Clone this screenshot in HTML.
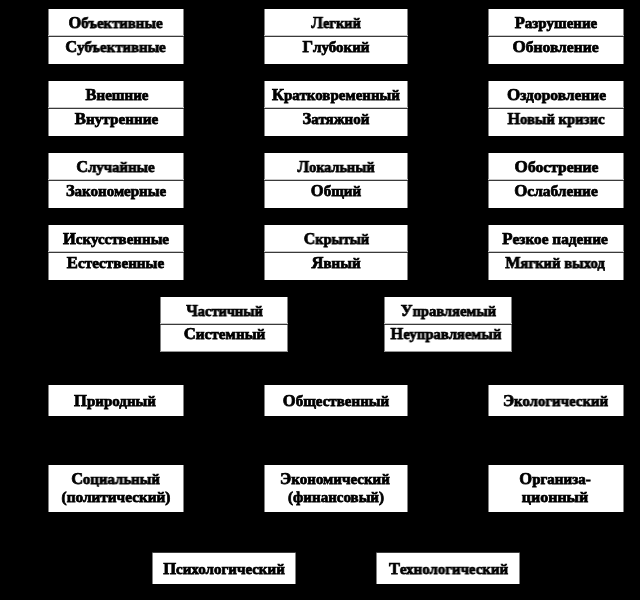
<!DOCTYPE html>
<html><head><meta charset="utf-8"><style>
html,body{margin:0;padding:0;background:#000;width:640px;height:600px;overflow:hidden}
.b{position:absolute;background:#fff;box-sizing:border-box;border-left:1px solid #808080;border-right:1px solid #808080}
.d{position:absolute;height:1px;background:#3a3a3a;box-shadow:0 -1px 0 #c8c8c8}
.t{position:absolute;height:20px;line-height:20px;text-align:center;font-family:"Liberation Serif",serif;font-weight:bold;font-size:15.0px;color:#000;white-space:nowrap;-webkit-text-stroke:0.75px #000;transform-origin:50% 0;will-change:transform}
.c{font-size:16.5px}
</style></head><body>
<div class="b" style="left:48px;top:9px;width:136px;height:55px;"></div>
<div class="d" style="left:48px;top:36px;width:136px"></div>
<div class="b" style="left:264px;top:9px;width:144px;height:55px;"></div>
<div class="d" style="left:264px;top:36px;width:144px"></div>
<div class="b" style="left:488px;top:9px;width:136px;height:55px;"></div>
<div class="d" style="left:488px;top:36px;width:136px"></div>
<div class="b" style="left:48px;top:81px;width:136px;height:55px;"></div>
<div class="d" style="left:48px;top:108px;width:136px"></div>
<div class="b" style="left:264px;top:81px;width:144px;height:55px;"></div>
<div class="d" style="left:264px;top:108px;width:144px"></div>
<div class="b" style="left:488px;top:81px;width:136px;height:55px;"></div>
<div class="d" style="left:488px;top:108px;width:136px"></div>
<div class="b" style="left:48px;top:153px;width:136px;height:55px;"></div>
<div class="d" style="left:48px;top:180px;width:136px"></div>
<div class="b" style="left:264px;top:153px;width:144px;height:55px;"></div>
<div class="d" style="left:264px;top:180px;width:144px"></div>
<div class="b" style="left:488px;top:153px;width:136px;height:55px;"></div>
<div class="d" style="left:488px;top:180px;width:136px"></div>
<div class="b" style="left:48px;top:225px;width:136px;height:55px;"></div>
<div class="d" style="left:48px;top:252px;width:136px"></div>
<div class="b" style="left:264px;top:225px;width:144px;height:55px;"></div>
<div class="d" style="left:264px;top:252px;width:144px"></div>
<div class="b" style="left:488px;top:225px;width:136px;height:55px;"></div>
<div class="d" style="left:488px;top:252px;width:136px"></div>
<div class="b" style="left:160px;top:297px;width:128px;height:54px;box-shadow:0 1px 0 #969696;"></div>
<div class="d" style="left:160px;top:324px;width:128px"></div>
<div class="b" style="left:384px;top:297px;width:128px;height:54px;box-shadow:0 1px 0 #969696;"></div>
<div class="d" style="left:384px;top:324px;width:128px"></div>
<div class="b" style="left:48px;top:385px;width:136px;height:31px;"></div>
<div class="b" style="left:264px;top:385px;width:144px;height:31px;"></div>
<div class="b" style="left:488px;top:385px;width:136px;height:31px;"></div>
<div class="b" style="left:48px;top:465px;width:136px;height:47px;"></div>
<div class="b" style="left:264px;top:465px;width:144px;height:47px;"></div>
<div class="b" style="left:488px;top:465px;width:136px;height:47px;"></div>
<div class="b" style="left:152px;top:553px;width:144px;height:31px;box-shadow:0 -1px 0 #3c3c3c;"></div>
<div class="b" style="left:376px;top:553px;width:144px;height:31px;box-shadow:0 -1px 0 #3c3c3c;"></div>
<div class="t" style="left:48px;width:136px;top:13px;transform:translateX(-0.50px) scaleX(0.9895)"><span class="c">О</span>бъективные</div>
<div class="t" style="left:48px;width:136px;top:37px;transform:translateX(-0.50px) scaleX(0.9901)"><span class="c">С</span>убъективные</div>
<div class="t" style="left:264px;width:144px;top:13px;transform:translateX(-0.02px) scaleX(0.9615)"><span class="c">Л</span>егкий</div>
<div class="t" style="left:264px;width:144px;top:37px;transform:translateX(0.02px) scaleX(1.0007)"><span class="c">Г</span>лубокий</div>
<div class="t" style="left:488px;width:136px;top:13px;transform:translateX(0.00px) scaleX(1.0000)"><span class="c">Р</span>азрушение</div>
<div class="t" style="left:488px;width:136px;top:37px;transform:translateX(-0.48px) scaleX(1.0367)"><span class="c">О</span>бновление</div>
<div class="t" style="left:48px;width:136px;top:85px;transform:translateX(1.01px) scaleX(1.0003)"><span class="c">В</span>нешние</div>
<div class="t" style="left:48px;width:136px;top:109px;transform:translateX(0.51px) scaleX(1.0122)"><span class="c">В</span>нутренние</div>
<div class="t" style="left:264px;width:144px;top:85px;transform:translateX(0.00px) scaleX(1.0000)"><span class="c">К</span>ратковременный</div>
<div class="t" style="left:264px;width:144px;top:109px;transform:translateX(0.00px) scaleX(1.0000)"><span class="c">З</span>атяжной</div>
<div class="t" style="left:488px;width:136px;top:85px;transform:translateX(0.49px) scaleX(1.0317)"><span class="c">О</span>здоровление</div>
<div class="t" style="left:488px;width:136px;top:109px;transform:translateX(-0.01px) scaleX(0.9800)"><span class="c">Н</span>овый кризис</div>
<div class="t" style="left:48px;width:136px;top:157px;transform:translateX(-0.50px) scaleX(0.9873)"><span class="c">С</span>лучайные</div>
<div class="t" style="left:48px;width:136px;top:181px;transform:translateX(0.00px) scaleX(1.0000)"><span class="c">З</span>акономерные</div>
<div class="t" style="left:264px;width:144px;top:157px;transform:translateX(-0.02px) scaleX(0.9514)"><span class="c">Л</span>окальный</div>
<div class="t" style="left:264px;width:144px;top:181px;transform:translateX(0.00px) scaleX(1.0000)"><span class="c">О</span>бщий</div>
<div class="t" style="left:488px;width:136px;top:157px;transform:translateX(0.54px) scaleX(1.0377)"><span class="c">О</span>бострение</div>
<div class="t" style="left:488px;width:136px;top:181px;transform:translateX(0.00px) scaleX(1.0247)"><span class="c">О</span>слабление</div>
<div class="t" style="left:48px;width:136px;top:229px;transform:translateX(0.00px) scaleX(1.0000)"><span class="c">И</span>скусственные</div>
<div class="t" style="left:48px;width:136px;top:253px;transform:translateX(-0.49px) scaleX(1.0104)"><span class="c">Е</span>стественные</div>
<div class="t" style="left:264px;width:144px;top:229px;transform:translateX(0.48px) scaleX(0.9559)"><span class="c">С</span>крытый</div>
<div class="t" style="left:264px;width:144px;top:253px;transform:translateX(0.01px) scaleX(1.0004)"><span class="c">Я</span>вный</div>
<div class="t" style="left:488px;width:136px;top:229px;transform:translateX(-0.99px) scaleX(1.0192)"><span class="c">Р</span>езкое падение</div>
<div class="t" style="left:488px;width:136px;top:253px;transform:translateX(-1.01px) scaleX(0.9804)"><span class="c">М</span>ягкий выход</div>
<div class="t" style="left:160px;width:128px;top:301px;transform:translateX(0.48px) scaleX(0.9625)"><span class="c">Ч</span>астичный</div>
<div class="t" style="left:160px;width:128px;top:324px;transform:translateX(0.51px) scaleX(1.0125)"><span class="c">С</span>истемный</div>
<div class="t" style="left:384px;width:128px;top:301px;transform:translateX(0.48px) scaleX(0.9694)"><span class="c">У</span>правляемый</div>
<div class="t" style="left:384px;width:128px;top:324px;transform:translateX(-2.00px) scaleX(0.9825)"><span class="c">Н</span>еуправляемый</div>
<div class="t" style="left:48px;width:136px;top:391px;transform:translateX(-1.00px) scaleX(1.0000)"><span class="c">П</span>риродный</div>
<div class="t" style="left:264px;width:144px;top:391px;transform:translateX(0.00px) scaleX(1.0000)"><span class="c">О</span>бщественный</div>
<div class="t" style="left:488px;width:136px;top:391px;transform:translateX(-0.50px) scaleX(0.9905)"><span class="c">Э</span>кологический</div>
<div class="t" style="left:48px;width:136px;top:469px;transform:translateX(-0.50px) scaleX(0.9888)"><span class="c">С</span>оциальный</div>
<div class="t" style="left:48px;width:136px;top:487px;transform:translateX(0.01px) scaleX(1.0189)">(политический)</div>
<div class="t" style="left:264px;width:144px;top:469px;transform:translateX(-1.00px) scaleX(1.0000)"><span class="c">Э</span>кономический</div>
<div class="t" style="left:264px;width:144px;top:487px;transform:translateX(0.00px) scaleX(1.0000)">(финансовый)</div>
<div class="t" style="left:488px;width:136px;top:469px;transform:translateX(-1.00px) scaleX(1.0000)"><span class="c">О</span>рганиза-</div>
<div class="t" style="left:488px;width:136px;top:487px;transform:translateX(-0.97px) scaleX(1.0645)">ционный</div>
<div class="t" style="left:152px;width:144px;top:559px;transform:translateX(0.00px) scaleX(1.0000)"><span class="c">П</span>сихологический</div>
<div class="t" style="left:376px;width:144px;top:559px;transform:translateX(0.50px) scaleX(0.9917)"><span class="c">Т</span>ехнологический</div>
</body></html>
